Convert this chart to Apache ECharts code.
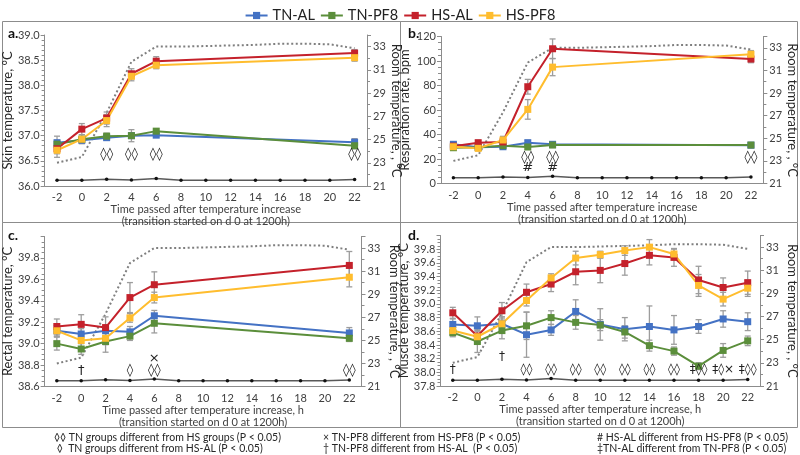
<!DOCTYPE html>
<html><head><meta charset="utf-8">
<script src="https://cdn.jsdelivr.net/npm/echarts/dist/echarts.min.js"></script>
<style>html,body{margin:0;padding:0;background:#fff}#c{width:800px;height:455px}</style>
</head><body><div id="c"></div>
<script>
// ---------- DATA ----------
const categories = ['-2','0','2','4','6','8','10','12','14','16','18','20','22'];
const groupNames = ['TN-AL','TN-PF8','HS-AL','HS-PF8'];
// room temperature (right axis) and lower reference line (right axis), same in all panels
const roomTemp = [23.0, 23.5, 27.3, 31.7, 33.0, 33.0, 33.05, 33.1, 33.15, 33.25, 33.25, 33.2, 32.85];
const lowLine  = [21.5, 21.5, 21.58, 21.52, 21.64, 21.5, 21.5, 21.5, 21.5, 21.5, 21.5, 21.5, 21.57];

// a. Skin temperature
const skinTNAL   = [36.86, 36.91, 36.96, 37.00, 37.01, null, null, null, null, null, null, null, 36.87];
const skinTNPF8  = [36.83, 36.93, 36.99, 37.00, 37.09, null, null, null, null, null, null, null, 36.80];
const skinHSAL   = [36.74, 37.13, 37.35, 38.23, 38.48, null, null, null, null, null, null, null, 38.64];
const skinHSPF8  = [36.71, 36.93, 37.30, 38.18, 38.40, null, null, null, null, null, null, null, 38.55];
const skinTNALe  = [0.13, 0.06, 0.05, 0.05, 0.04, null, null, null, null, null, null, null, 0.07];
const skinTNPF8e = [0.08, 0.05, 0.06, 0.12, 0.05, null, null, null, null, null, null, null, 0.06];
const skinHSALe  = [0.10, 0.11, 0.12, 0.10, 0.09, null, null, null, null, null, null, null, 0.07];
const skinHSPF8e = [0.14, 0.09, 0.12, 0.09, 0.07, null, null, null, null, null, null, null, 0.07];

// b. Respiration rate
const respTNAL   = [32.0, 29.5, 30.0, 33.3, 32.0, null, null, null, null, null, null, null, 31.3];
const respTNPF8  = [29.2, 29.5, 30.9, 29.8, 31.4, null, null, null, null, null, null, null, 31.4];
const respHSAL   = [30.5, 33.3, 33.9, 79.0, 110.0, null, null, null, null, null, null, null, 101.6];
const respHSPF8  = [30.0, 28.7, 35.5, 60.5, 95.0, null, null, null, null, null, null, null, 105.5];
const respTNALe  = [2, 2, 2, 2, 2, null, null, null, null, null, null, null, 2];
const respTNPF8e = [2, 2, 2, 2, 2, null, null, null, null, null, null, null, 2];
const respHSALe  = [2, 2, 3, 6, 8, null, null, null, null, null, null, null, 3];
const respHSPF8e = [2, 2, 3, 8, 7, null, null, null, null, null, null, null, 3];

// c. Rectal temperature
const recTNAL   = [39.12, 39.09, 39.12, 39.11, 39.26, null, null, null, null, null, null, null, 39.10];
const recTNPF8  = [39.00, 38.95, 39.02, 39.07, 39.19, null, null, null, null, null, null, null, 39.05];
const recHSAL   = [39.16, 39.18, 39.15, 39.43, 39.55, null, null, null, null, null, null, null, 39.73];
const recHSPF8  = [39.12, 39.03, 39.05, 39.24, 39.43, null, null, null, null, null, null, null, 39.62];
const recTNALe  = [0.05, 0.05, 0.05, 0.05, 0.05, null, null, null, null, null, null, null, 0.05];
const recTNPF8e = [0.06, 0.05, 0.10, 0.04, 0.09, null, null, null, null, null, null, null, 0.03];
const recHSALe  = [0.07, 0.09, 0.10, 0.14, 0.12, null, null, null, null, null, null, null, 0.13];
const recHSPF8e = [0.05, 0.06, 0.06, 0.04, 0.05, null, null, null, null, null, null, null, 0.09];

// d. Muscle temperature
const musTNAL   = [38.70, 38.68, 38.71, 38.55, 38.62, 38.89, 38.70, 38.63, 38.67, 38.62, 38.67, 38.78, 38.74];
const musTNPF8  = [38.58, 38.45, 38.61, 38.68, 38.80, 38.73, 38.69, 38.59, 38.39, 38.31, 38.09, 38.32, 38.46];
const musHSAL   = [38.87, 38.53, 38.90, 39.17, 39.29, 39.47, 39.49, 39.59, 39.71, 39.68, 39.35, 39.24, 39.31];
const musHSPF8  = [38.61, 38.52, 38.71, 39.05, 39.38, 39.67, 39.72, 39.78, 39.83, 39.73, 39.27, 39.07, 39.23];
const musTNALe  = [0.08, 0.13, 0.10, 0.33, 0.08, 0.17, 0.23, 0.17, 0.30, 0.21, 0.10, 0.12, 0.13];
const musTNPF8e = [0.06, 0.16, 0.12, 0.20, 0.10, 0.10, 0.08, 0.09, 0.08, 0.06, 0.05, 0.10, 0.07];
const musHSALe  = [0.08, 0.10, 0.12, 0.12, 0.11, 0.19, 0.18, 0.17, 0.14, 0.13, 0.20, 0.14, 0.17];
const musHSPF8e = [0.06, 0.08, 0.10, 0.08, 0.06, 0.10, 0.05, 0.07, 0.11, 0.07, 0.16, 0.10, 0.12];

// significance annotations per category
const annotA  = ['', '', '◊◊', '◊◊', '◊◊', '', '', '', '', '', '', '', '◊◊'];
const annotB  = ['', '', '', '◊◊', '◊◊', '', '', '', '', '', '', '', '◊◊'];
const annotB2 = ['', '', '', '#', '#', '', '', '', '', '', '', '', ''];
const annotC  = ['', '†', '', '◊', '◊◊', '', '', '', '', '', '', '', '◊◊'];
const annotC2 = ['', '', '', '', '×', '', '', '', '', '', '', '', ''];
const annotD  = ['†', '', '', '◊◊', '◊◊', '◊◊', '◊◊', '◊◊', '◊◊', '◊◊', '‡◊◊', '‡◊×', '‡◊◊'];
const annotD2 = ['', '', '†', '', '', '', '', '', '', '', '', '', ''];

const footnotes = [
  ['◊◊ TN groups different from HS groups (P < 0.05)', '× TN-PF8 different from HS-PF8 (P < 0.05)', '# HS-AL different from HS-PF8 (P < 0.05)'],
  [' ◊  TN groups different from HS-AL (P < 0.05)', '† TN-PF8 different from HS-AL  (P < 0.05)', '‡TN-AL different from TN-PF8 (P < 0.05)']
];

// ---------- STYLE / LAYOUT ----------
const colors = ['#4472C4', '#5B8E3B', '#C4212B', '#FFBD2E'];
const FONT = 'Lato, "Liberation Sans", sans-serif';
const axisCol = '#8c8c8c';
const txtCol = '#404040';

const panels = [
  {grid:{left:41, top:35, width:326, height:151}, min:36, max:39, interval:0.5, dec:1, minorSplit:5,
   yName:'Skin temperature, °C', series:[skinTNAL, skinTNPF8, skinHSAL, skinHSPF8],
   err:[skinTNALe, skinTNPF8e, skinHSALe, skinHSPF8e],
   xName:'Time passed after temperature increase\n(transition started on d 0 at 1200h)',
   annots:[[annotA, 36.62]], label:'a.', lx:8, ly:26, yGap:28, rGap:21, showMax:true, aFont:13},
  {grid:{left:441, top:36.5, width:326, height:147}, min:0, max:120, interval:20, dec:0, minorSplit:4,
   yName:'Respiration rate, bpm', series:[respTNAL, respTNPF8, respHSAL, respHSPF8],
   err:[respTNALe, respTNPF8e, respHSALe, respHSPF8e],
   xName:'Time passed after temperature increase\n(transition started on d 0 at 1200h)',
   annots:[[annotB, 21.5],[annotB2, 12.6]], label:'b.', lx:408, ly:26, yGap:30, rGap:21, showMax:true, aFont:13},
  {grid:{left:40.5, top:236.5, width:321, height:150}, min:38.6, max:40.0, interval:0.2, dec:1, minorSplit:4,
   yName:'Rectal temperature, °C', series:[recTNAL, recTNPF8, recHSAL, recHSPF8],
   err:[recTNALe, recTNPF8e, recHSALe, recHSPF8e],
   xName:'Time passed after temperature increase, h\n(transition started on d 0 at 1200h)',
   annots:[[annotC, 38.75],[annotC2, 38.86]], label:'c.', lx:8, ly:228, yGap:29, rGap:26, showMax:false, aFont:13},
  {grid:{left:440.5, top:235.5, width:321, height:150.5}, min:37.8, max:40.0, interval:0.2, dec:1, minorSplit:4,
   yName:'Muscle temperature, °C', series:[musTNAL, musTNPF8, musHSAL, musHSPF8],
   err:[musTNALe, musTNPF8e, musHSALe, musHSPF8e],
   xName:'Time passed after temperature increase, h\n(transition started on d 0 at 1200h)',
   annots:[[annotD, 38.03],[annotD2, 38.23]], label:'d.', lx:408, ly:228, yGap:30, rGap:26, showMax:false, aFont:12}
];

const grids = [], xAxes = [], yAxes = [], series = [], graphics = [];

panels.forEach((p, i) => {
  grids.push(p.grid);
  xAxes.push({
    type:'category', gridIndex:i, data:categories, boundaryGap:true,
    axisLine:{lineStyle:{color:axisCol}}, axisTick:{show:false},
    axisLabel:{interval:0, color:txtCol, fontSize:11, fontFamily:FONT, margin:6},
    name:p.xName, nameLocation:'middle', nameGap:16,
    nameTextStyle:{color:txtCol, fontSize:11, fontFamily:FONT, lineHeight:12, verticalAlign:'top'}
  });
  yAxes.push({
    type:'value', gridIndex:i, position:'left', min:p.min, max:p.max, interval:p.interval,
    axisLine:{show:true, lineStyle:{color:axisCol}}, splitLine:{show:false},
    axisTick:{show:true, length:4, lineStyle:{color:axisCol}},
    minorTick:{show:true, splitNumber:p.minorSplit, length:3, lineStyle:{color:axisCol}},
    axisLabel:{color:txtCol, fontSize:11, fontFamily:FONT, margin:5, showMaxLabel:p.showMax,
      formatter: v => v.toFixed(p.dec)},
    name:p.yName, nameLocation:'middle', nameRotate:90, nameGap:p.yGap,
    nameTextStyle:{color:'#262626', fontSize:13, fontFamily:FONT}
  });
  yAxes.push({
    type:'value', gridIndex:i, position:'right', min:21, max:34, interval:2,
    axisLine:{show:true, lineStyle:{color:axisCol}}, splitLine:{show:false},
    axisTick:{show:true, length:4, lineStyle:{color:axisCol}},
    minorTick:{show:true, splitNumber:2, length:3, lineStyle:{color:axisCol}},
    axisLabel:{color:txtCol, fontSize:11, fontFamily:FONT, margin:6, showMaxLabel:false},
    name:'Room temperature, , °C', nameLocation:'middle', nameRotate:-90, nameGap:p.rGap,
    nameTextStyle:{color:'#262626', fontSize:13, fontFamily:FONT}
  });
  const yL = 2*i, yR = 2*i + 1;
  // room temperature dotted line
  series.push({type:'line', xAxisIndex:i, yAxisIndex:yR, data:roomTemp, symbol:'none', silent:true,
    lineStyle:{color:'#7f7f7f', width:2, type:[2,2.5]}, z:1});
  // lower reference line
  series.push({type:'line', xAxisIndex:i, yAxisIndex:yR, data:lowLine, symbol:'circle', symbolSize:3.5, silent:true,
    lineStyle:{color:'#595959', width:1.5}, itemStyle:{color:'#111'}, z:1});
  // error bars
  p.series.forEach((vals, g) => {
    const pts = [];
    vals.forEach((v, k) => { if (v != null && p.err[g][k] != null) pts.push([k, v - p.err[g][k], v + p.err[g][k]]); });
    series.push({type:'custom', xAxisIndex:i, yAxisIndex:yL, data:pts, silent:true, z:2,
      encode:{x:0, y:[1,2]},
      renderItem:(params, api) => {
        const lo = api.coord([api.value(0), api.value(1)]);
        const hi = api.coord([api.value(0), api.value(2)]);
        const st = {stroke:'#9d9d9d', lineWidth:1.3};
        return {type:'group', children:[
          {type:'line', shape:{x1:lo[0], y1:lo[1], x2:hi[0], y2:hi[1]}, style:st},
          {type:'line', shape:{x1:lo[0]-3, y1:lo[1], x2:lo[0]+3, y2:lo[1]}, style:st},
          {type:'line', shape:{x1:hi[0]-3, y1:hi[1], x2:hi[0]+3, y2:hi[1]}, style:st}
        ]};
      }});
  });
  // data lines
  p.series.forEach((vals, g) => {
    series.push({type:'line', name:groupNames[g], xAxisIndex:i, yAxisIndex:yL, data:vals, connectNulls:true,
      symbol:'rect', symbolSize:7, lineStyle:{color:colors[g], width:2}, itemStyle:{color:colors[g]}, z:3});
  });
  // annotations
  p.annots.forEach(([arr, level]) => {
    const items = [];
    arr.forEach((t, k) => { if (t) items.push({k, t}); });
    series.push({type:'custom', xAxisIndex:i, yAxisIndex:yL, silent:true, z:4,
      data: items.map(o => [o.k, level]),
      renderItem:(params, api) => {
        const pt = api.coord([api.value(0), api.value(1)]);
        return {type:'text', x:pt[0], y:pt[1], style:{text:items[params.dataIndex].t, fill:'#222',
          font:p.aFont + 'px "DejaVu Sans", sans-serif', textAlign:'center', textVerticalAlign:'middle'}};
      }});
  });
  graphics.push({type:'text', left:p.lx, top:p.ly, style:{text:p.label, font:'bold 14px ' + FONT, fill:'#111'}});
});

// panel borders
[[2.5,21.5,398,201],[400.5,21.5,397,201],[2.5,222.5,398,205],[400.5,222.5,397,205]].forEach(([x,y,w,h]) => {
  graphics.push({type:'rect', shape:{x:x, y:y, width:w, height:h},
    style:{fill:'none', stroke:'#8c8c8c', lineWidth:1}, silent:true, z:-1});
});
// footnotes
const colX = [54, 323, 597];
footnotes.forEach((row, r) => row.forEach((t, c) => {
  graphics.push({type:'text', left:colX[c], top:432 + r*11, style:{text:t, font:'10.5px ' + FONT, fill:'#262626'}});
}));

const chart = echarts.init(document.getElementById('c'));
chart.setOption({
  backgroundColor:'#fff',
  animation:false,
  legend:{data:groupNames, top:3, left:'center', itemWidth:22, itemHeight:9, itemGap:5,
    textStyle:{fontSize:14.5, fontFamily:FONT, color:'#222'}},
  grid:grids, xAxis:xAxes, yAxis:yAxes, series:series, graphic:graphics
});
</script></body></html>
